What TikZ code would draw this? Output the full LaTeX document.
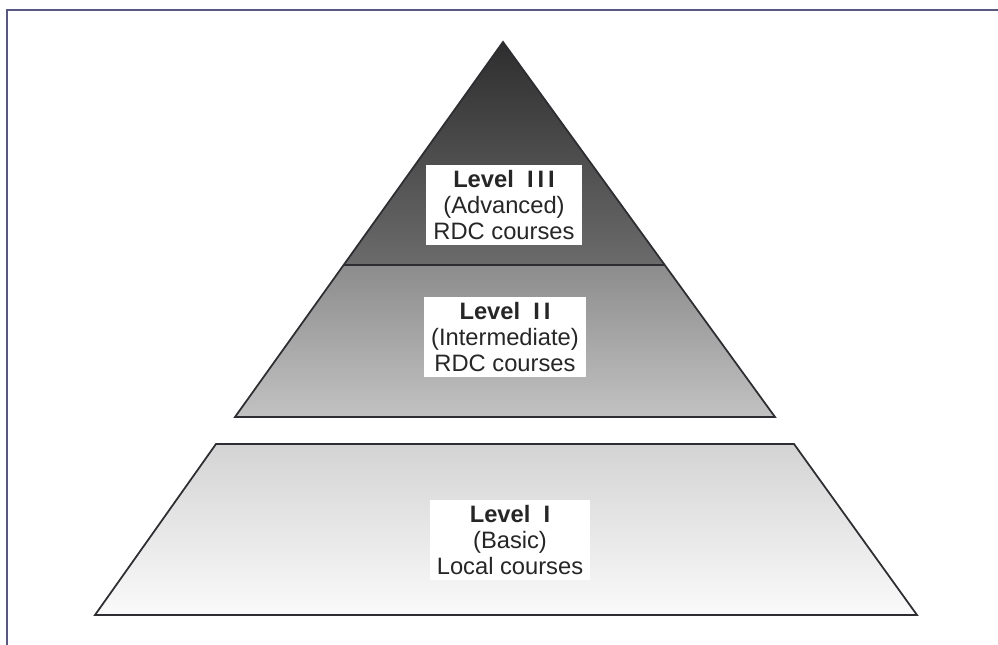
\documentclass[tikz,border=0pt]{standalone}
\usepackage{fontspec}
\setmainfont{Liberation Sans}
\usetikzlibrary{calc}
\definecolor{framecol}{RGB}{88,88,128}
\definecolor{edgecol}{RGB}{45,45,50}
\begin{document}
\begin{tikzpicture}[x=0.02cm,y=-0.02cm]

        \useasboundingbox (0,0) rectangle (998,645);

        % frame
        \draw[line width=1.3pt, color=framecol] (7,645) -- (7,10) -- (998,10);

        % corners of the layers
        \coordinate (apex) at (503,42);
        \coordinate (ml)   at (235,417);
        \coordinate (mr)   at (775,417);
        \coordinate (tl)   at ($(apex)!0.5947!(ml)$);
        \coordinate (tr)   at ($(apex)!0.5947!(mr)$);
        \coordinate (bl1)  at (216,444);
        \coordinate (br1)  at (794,444);
        \coordinate (bl2)  at (95,615);
        \coordinate (br2)  at (917,615);

        \begin{scope}[draw=edgecol, line width=1pt, line join=miter]
          \path[top color=black!82, bottom color=black!58] (apex) -- (tr) -- (tl) -- cycle;
          \path[top color=black!45, bottom color=black!24] (tl) -- (tr) -- (mr) -- (ml) -- cycle;
          \path[top color=black!17, bottom color=black!2] (bl1) -- (br1) -- (br2) -- (bl2) -- cycle;
          \draw (apex) -- (mr) -- (ml) -- cycle;
          \draw[line width=1.4pt] (tl) -- (tr);
          \draw (bl1) -- (br1) -- (br2) -- (bl2) -- cycle;
        \end{scope}

        \begin{scope}[every node/.style={fill=white, align=center, inner xsep=4pt, inner ysep=3pt,
            font=\fontsize{13.5}{14.8}\selectfont, text=black!85}]
          \node (adv) at (504,205) {\textbf{Level\ \ I\,I\,I}\\(Advanced)\\RDC courses};
          \node (mid) at (505,337) {\textbf{Level\ \ I\,I}\\(Intermediate)\\RDC courses};
          \node (bas) at (510,540) {\textbf{Level\ \ I}\\(Basic)\\Local courses};
        \end{scope}

      \end{tikzpicture}
\end{document}
